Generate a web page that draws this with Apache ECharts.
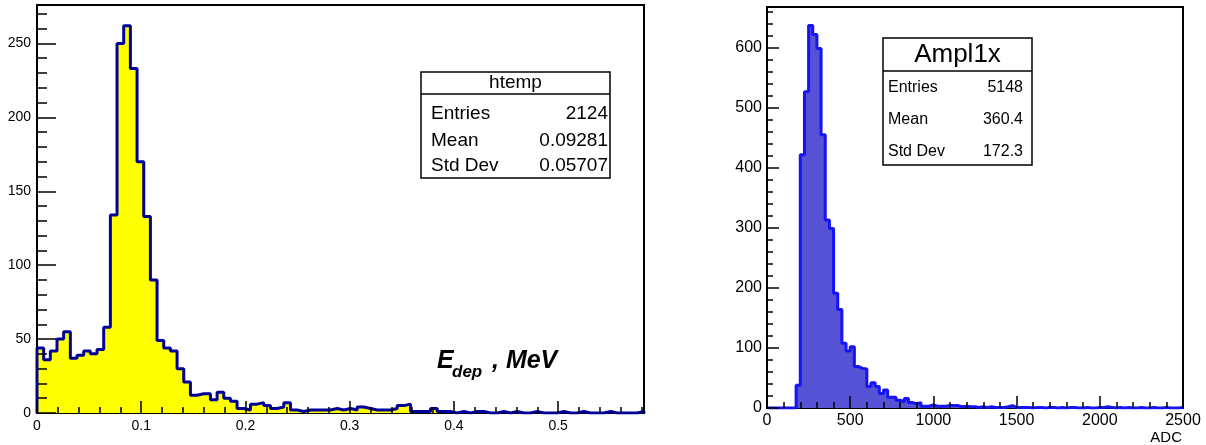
<!DOCTYPE html>
<html>
<head>
<meta charset="utf-8">
<script src="https://cdn.jsdelivr.net/npm/echarts@6/dist/echarts.min.js"></script>
<style>
html, body { margin: 0; padding: 0; background: #fff; }
#chart { width: 1206px; height: 445px; }
</style>
</head>
<body>
<div id="chart"></div>
<script>
// ---------------- left pad : htemp (E_dep, MeV) ----------------
const edepBinWidth = 0.0064;
const edepCounts = [
  44, 36, 42, 50, 55, 37, 39, 42, 40, 43,
  58, 134, 250, 262, 233, 170, 133, 90, 49, 44,
  42, 30, 21, 12, 13, 13, 9, 14, 10, 8,
  3, 2, 6, 7, 5, 3, 4, 7, 2, 1,
  2, 2, 2, 2, 3, 2, 3, 2, 4, 3,
  2, 2, 2, 3, 5, 6, 1, 1, 1, 3,
  1, 1, 0, 1, 0, 1, 1, 0, 0, 1,
  0, 1, 0, 0, 1, 0, 0, 0, 1, 0,
  0, 1, 0, 0, 0, 1, 0, 0, 0, 0,
  1
];
const edepXMax = 0.5824;
const edepYMax = 276;
const edepXTicks = [0, 0.1, 0.2, 0.3, 0.4, 0.5];
const edepYTicks = [0, 50, 100, 150, 200, 250];
const edepStats = [['Entries', '2124'], ['Mean', '0.09281'], ['Std Dev', '0.05707']];

// ---------------- right pad : Ampl1x (ADC) ----------------
const adcBinWidth = 25;
const adcCounts = [
  0, 0, 0, 0, 0, 0, 0, 38, 422, 527,
  637, 622, 599, 455, 313, 299, 191, 164, 108, 95,
  102, 69, 66, 65, 36, 42, 36, 24, 30, 18,
  18, 13, 10, 16, 9, 7, 9, 3, 3, 5,
  3, 3, 3, 4, 4, 4, 2, 3, 2, 2,
  1, 2, 1, 2, 1, 1, 1, 2, 4, 1,
  1, 1, 1, 0, 1, 1, 0, 1, 1, 0,
  1, 0, 1, 1, 0, 0, 1, 0, 0, 1,
  1, 2, 1, 0, 1, 0, 1, 0, 0, 1,
  0, 0, 1, 0, 0, 1, 0, 0, 0, 1
];
const adcXMax = 2500;
const adcYMax = 668;
const adcXTicks = [0, 500, 1000, 1500, 2000, 2500];
const adcYTicks = [0, 100, 200, 300, 400, 500, 600];
const adcStats = [['Entries', '5148'], ['Mean', '360.4'], ['Std Dev', '172.3']];

// minor tick positions
function steps(from, to, step) {
  const out = [];
  for (let v = from; v <= to + step * 1e-6; v += step) out.push(Math.round(v * 1e6) / 1e6);
  return out;
}
const edepXMinor = steps(0, 0.58, 0.02);
const edepYMinor = steps(0, 270, 10);
const adcXMinor = steps(0, 2500, 100);
const adcYMinor = steps(0, 660, 20);

// outline of a histogram: points at bin low edges, closed down to zero at both ends
function histPoints(counts, width) {
  const pts = [[0, 0]];
  counts.forEach((c, i) => pts.push([i * width, c]));
  const hi = counts.length * width;
  pts.push([hi, counts[counts.length - 1]]);
  pts.push([hi, 0]);
  return pts;
}

const FONT = '"Liberation Sans", Arial, Helvetica, sans-serif';

function mkAxis(dim, grid, max, ticks, minor, majorLen, minorLen, fontSize, margin) {
  const base = {
    type: 'value', gridIndex: grid, min: 0, max: max, z: 5,
    position: dim === 'x' ? 'bottom' : 'left',
    axisLine: { show: false }, splitLine: { show: false }
  };
  return [
    Object.assign({}, base, {
      axisTick: { show: true, inside: true, length: majorLen, customValues: ticks,
                  lineStyle: { color: '#000', width: 1.5 } },
      axisLabel: { show: true, customValues: ticks, color: '#000', fontSize: fontSize,
                   fontFamily: FONT, margin: margin, formatter: v => String(v) }
    }),
    Object.assign({}, base, {
      axisTick: { show: true, inside: true, length: minorLen, customValues: minor,
                  lineStyle: { color: '#000', width: 1.5 } },
      axisLabel: { show: false }
    })
  ];
}

const xAxes = [].concat(
  mkAxis('x', 0, edepXMax, edepXTicks, edepXMinor, 12, 6, 14, 6),
  mkAxis('x', 1, adcXMax, adcXTicks, adcXMinor, 12, 6, 16, 5)
);
const yAxes = [].concat(
  mkAxis('y', 0, edepYMax, edepYTicks, edepYMinor, 19, 10, 14, 6),
  mkAxis('y', 1, adcYMax, adcYTicks, adcYMinor, 12, 6, 16, 5)
);

function statBox(x, y, w, titleH, h, title, titleSize, rows, rowY, rowSize, padL, padR) {
  const els = [
    { type: 'rect', z: 20, shape: { x: x, y: y, width: w, height: h },
      style: { fill: '#fff', stroke: '#000', lineWidth: 1.5 } },
    { type: 'line', z: 21, shape: { x1: x, y1: y + titleH, x2: x + w, y2: y + titleH },
      style: { stroke: '#000', lineWidth: 1.5 } },
    { type: 'text', z: 21, style: { x: x + w / 2, y: y + titleH / 2, text: title, fill: '#000',
      font: titleSize + 'px ' + FONT, align: 'center', verticalAlign: 'middle' } }
  ];
  rows.forEach((r, i) => {
    els.push({ type: 'text', z: 21, style: { x: x + padL, y: rowY[i], text: r[0], fill: '#000',
      font: rowSize + 'px ' + FONT, align: 'left', verticalAlign: 'middle' } });
    els.push({ type: 'text', z: 21, style: { x: x + w - padR, y: rowY[i], text: r[1], fill: '#000',
      font: rowSize + 'px ' + FONT, align: 'right', verticalAlign: 'middle' } });
  });
  return els;
}

const graphics = [].concat(
  statBox(421, 72, 189, 22, 106, 'htemp', 19, edepStats, [114, 140.5, 166], 19, 10, 2),
  statBox(883, 38, 149, 33, 127, 'Ampl1x', 26, adcStats, [87.5, 120, 151.5], 16, 5, 9),
  [
    { type: 'text', z: 21, style: { x: 437, y: 361, text: 'E', fill: '#000',
      font: 'italic bold 25px ' + FONT, align: 'left', verticalAlign: 'middle' } },
    { type: 'text', z: 21, style: { x: 452, y: 372, text: 'dep', fill: '#000',
      font: 'italic bold 17px ' + FONT, align: 'left', verticalAlign: 'middle' } },
    { type: 'text', z: 21, style: { x: 492, y: 361, text: ', MeV', fill: '#000',
      font: 'italic bold 25px ' + FONT, align: 'left', verticalAlign: 'middle' } },
    { type: 'text', z: 21, style: { x: 1182, y: 438, text: 'ADC', fill: '#000',
      font: '15px ' + FONT, align: 'right', verticalAlign: 'middle' } }
  ]
);

const chart = echarts.init(document.getElementById('chart'));
chart.setOption({
  animation: false,
  backgroundColor: '#fff',
  grid: [
    { left: 37, top: 5, width: 607, height: 408, show: true, borderColor: '#000', borderWidth: 2,
      backgroundColor: 'transparent', containLabel: false, outerBoundsMode: 'none' },
    { left: 767, top: 7, width: 416, height: 401, show: true, borderColor: '#000', borderWidth: 2,
      backgroundColor: 'transparent', containLabel: false, outerBoundsMode: 'none' }
  ],
  xAxis: xAxes,
  yAxis: yAxes,
  series: [
    { type: 'line', name: 'htemp', xAxisIndex: 0, yAxisIndex: 0, step: 'end',
      data: histPoints(edepCounts, edepBinWidth), symbol: 'none', silent: true,
      lineStyle: { color: '#000099', width: 3 },
      areaStyle: { color: '#ffff00', opacity: 1 } },
    { type: 'line', name: 'Ampl1x', xAxisIndex: 2, yAxisIndex: 2, step: 'end',
      data: histPoints(adcCounts, adcBinWidth), symbol: 'none', silent: true,
      lineStyle: { color: '#1414f5', width: 3 },
      areaStyle: { color: '#5652d6', opacity: 1 } }
  ],
  graphic: graphics
});
</script>
</body>
</html>
